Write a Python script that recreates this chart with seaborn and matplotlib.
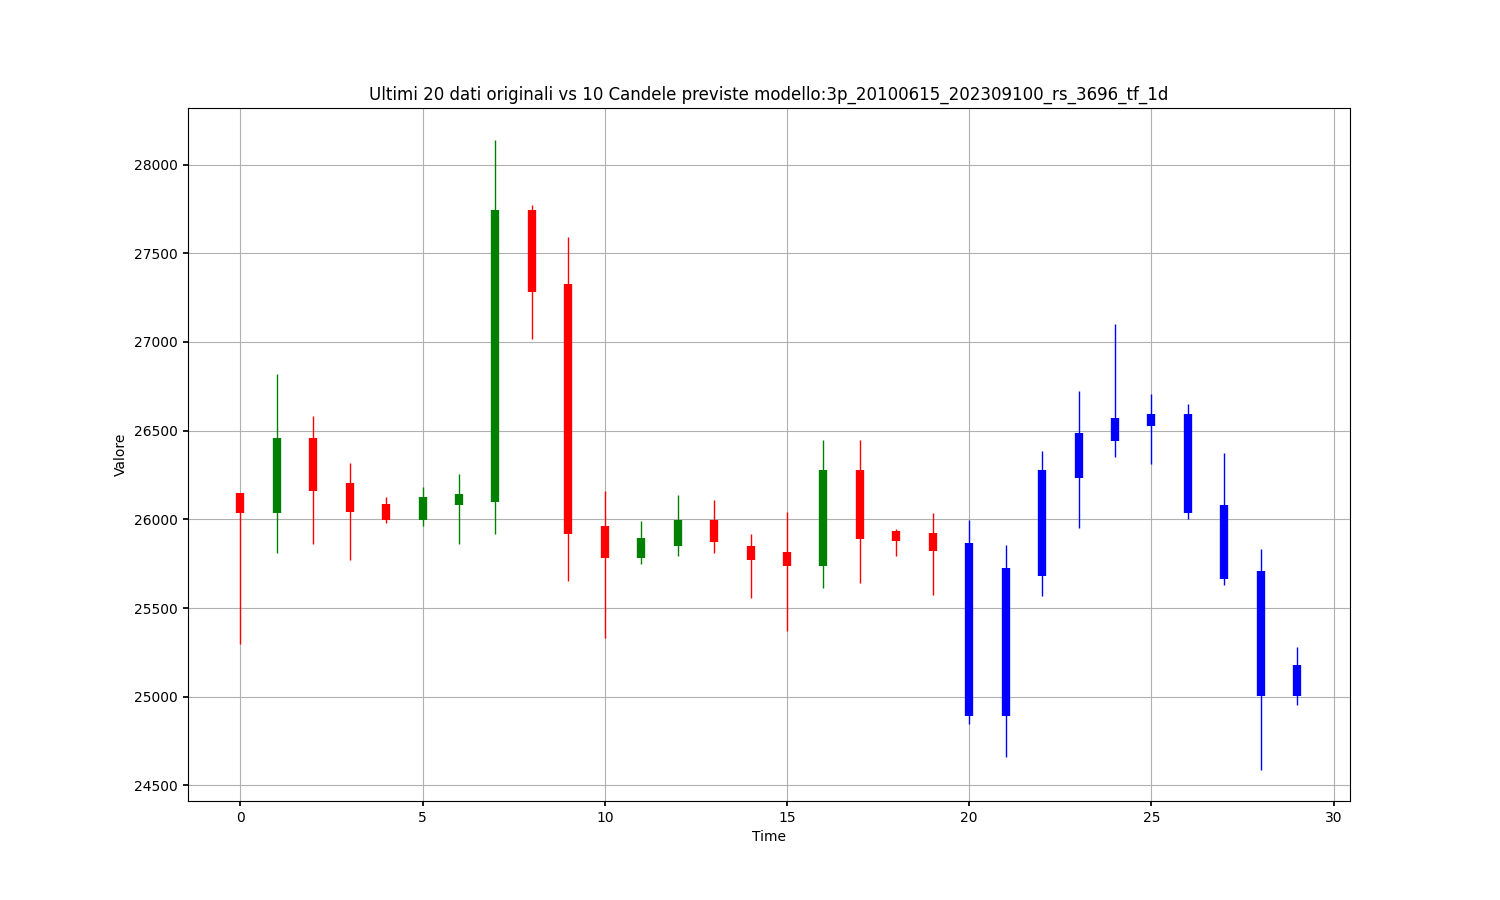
import matplotlib
matplotlib.use("Agg")
import matplotlib.pyplot as plt
import seaborn as sns
import numpy as np

# Original 20 candles
orig_open  = [26148, 26035, 26458, 26204, 26086, 25998, 26080, 26099, 27741, 27325,
              25962, 25784, 25851, 25996, 25850, 25816, 25739, 26276, 25934, 25923]
orig_high  = [26148, 26818, 26581, 26316, 26125, 26181, 26254, 28141, 27769, 27589,
              26159, 25990, 26137, 26110, 25917, 26041, 26445, 26445, 25945, 26035]
orig_low   = [25297, 25810, 25861, 25771, 25979, 25964, 25861, 25917, 27015, 25654,
              25333, 25750, 25795, 25812, 25559, 25368, 25615, 25643, 25795, 25571]
orig_close = [26035, 26458, 26159, 26041, 25998, 26125, 26142, 27741, 27281, 25917,
              25782, 25895, 25998, 25874, 25773, 25739, 26276, 25891, 25880, 25824]

# Predicted 10 candles
pred_open  = [25867, 25727, 26276, 26484, 26574, 26591, 26591, 26080, 25710, 25180]
pred_high  = [25998, 25855, 26383, 26724, 27100, 26704, 26648, 26372, 25834, 25283]
pred_low   = [24848, 24663, 25570, 25951, 26352, 26313, 26002, 25631, 24590, 24955]
pred_close = [24889, 24889, 25682, 26232, 26441, 26528, 26037, 25665, 25006, 25006]

title = "Ultimi 20 dati originali vs 10 Candele previste modello:3p_20100615_202309100_rs_3696_tf_1d"

sns.set_theme(style="whitegrid", rc={
    "axes.edgecolor": "black",
    "axes.linewidth": 0.8,
    "grid.color": "#b0b0b0",
    "grid.linewidth": 0.8,
    "xtick.bottom": True,
    "ytick.left": True,
    "xtick.major.size": 3.5,
    "ytick.major.size": 3.5,
    "xtick.color": "black",
    "ytick.color": "black",
    "axes.labelcolor": "black",
    "text.color": "black",
    "font.size": 10,
    "axes.titlesize": 12,
    "axes.labelsize": 10,
    "xtick.labelsize": 10,
    "ytick.labelsize": 10,
    "axes.axisbelow": True,
})
plt.rcParams['font.family'] = ['DejaVu Sans']

fig, ax = plt.subplots(figsize=(15, 9), dpi=100)
fig.subplots_adjust(left=0.125, right=0.9, top=0.88, bottom=0.11)

n_orig = len(orig_open)
x_orig = np.arange(n_orig)
x_pred = np.arange(n_orig, n_orig + len(pred_open))

orig_colors = ["green" if c >= o else "red" for o, c in zip(orig_open, orig_close)]

ax.vlines(x_orig, orig_low, orig_high, colors=orig_colors, linewidth=1)
ax.vlines(x_orig, np.minimum(orig_open, orig_close), np.maximum(orig_open, orig_close),
          colors=orig_colors, linewidth=6)

ax.vlines(x_pred, pred_low, pred_high, colors="blue", linewidth=1)
ax.vlines(x_pred, np.minimum(pred_open, pred_close), np.maximum(pred_open, pred_close),
          colors="blue", linewidth=6)

ax.set_title(title)
ax.set_xlabel("Time")
ax.set_ylabel("Valore")
ax.grid(True)

fig.savefig("out.png", dpi=100)
